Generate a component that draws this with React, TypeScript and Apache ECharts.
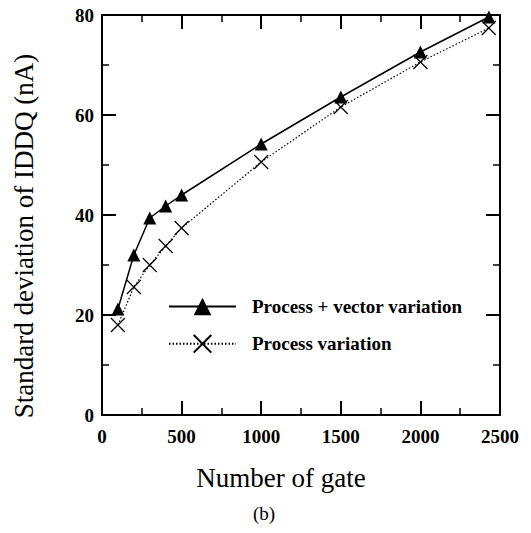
import React, { useEffect, useRef } from "react";
import * as echarts from "echarts";

const gates = [100, 200, 300, 400, 500, 1000, 1500, 2000, 2430];
const processVector = [21.2, 32, 39.4, 41.8, 44, 54.2, 63.6, 72.6, 79.6];
const processOnly = [18, 25.6, 30, 33.8, 37.4, 50.6, 61.6, 70.6, 77.4];
const seriesNames = ["Process + vector variation", "Process variation"];
const xTicks = [0, 500, 1000, 1500, 2000, 2500];
const yTicks = [0, 20, 40, 60, 80];

const serif = "Times New Roman, Liberation Serif, serif";
const crossPath = "path://M0,0L10,10M10,0L0,10";

function axisParts() {
  return {
    axisLine: { show: true, onZero: false, lineStyle: { color: "#000", width: 2 } },
    axisTick: { show: true, inside: true, length: 14, lineStyle: { color: "#000", width: 2 } },
    minorTick: { show: true, splitNumber: 2, length: 7, lineStyle: { color: "#000", width: 1.5 } },
    splitLine: { show: false },
  };
}

export default function App() {
  const ref = useRef<HTMLDivElement>(null);
  useEffect(() => {
    if (!ref.current) return;
    const chart = echarts.init(ref.current, undefined, { renderer: "svg" });
    const xMin = xTicks[0], xMax = xTicks[xTicks.length - 1];
    const yMin = yTicks[0], yMax = yTicks[yTicks.length - 1];
    const labelStyle = { color: "#000", fontFamily: serif, fontWeight: "bold", fontSize: 19 };
    chart.setOption({
      animation: false,
      backgroundColor: "#fff",
      grid: { left: 102, top: 15, right: 31, bottom: 118 },
      legend: {
        orient: "vertical",
        left: 163,
        top: 292,
        itemWidth: 67,
        itemHeight: 22,
        itemGap: 18,
        data: seriesNames,
        textStyle: { fontFamily: serif, fontWeight: "bold", fontSize: 19, color: "#000", padding: [0, 0, 0, 11] },
      },
      xAxis: [
        {
          type: "value",
          min: xMin,
          max: xMax,
          interval: 500,
          ...axisParts(),
          axisLabel: { ...labelStyle, margin: 12, formatter: (v: number) => String(v) },
          name: "Number of gate",
          nameLocation: "middle",
          nameGap: 49,
          nameTextStyle: { color: "#000", fontFamily: serif, fontSize: 27, padding: [0, 40, 0, 0] },
        },
        {
          type: "value",
          position: "top",
          min: xMin,
          max: xMax,
          interval: 500,
          ...axisParts(),
          axisLabel: { show: false },
        },
      ],
      yAxis: [
        {
          type: "value",
          min: yMin,
          max: yMax,
          interval: 20,
          ...axisParts(),
          axisLabel: { ...labelStyle, margin: 8 },
          name: "Standard deviation of IDDQ (nA)",
          nameLocation: "middle",
          nameGap: 65,
          nameTextStyle: { color: "#000", fontFamily: serif, fontSize: 27, padding: [0, 42, 0, 0] },
        },
        {
          type: "value",
          position: "right",
          min: yMin,
          max: yMax,
          interval: 20,
          ...axisParts(),
          axisLabel: { show: false },
        },
      ],
      graphic: [
        {
          type: "text",
          left: 253,
          top: 504,
          style: { text: "(b)", fontFamily: serif, fontSize: 19, fill: "#000" },
        },
      ],
      series: [
        {
          name: seriesNames[0],
          type: "line",
          data: gates.map((g, i) => [g, processVector[i]]),
          symbol: "triangle",
          symbolSize: 13,
          color: "#000",
          lineStyle: { color: "#000", width: 1.5, type: "solid" },
          itemStyle: { color: "#000" },
        },
        {
          name: seriesNames[1],
          type: "line",
          data: gates.map((g, i) => [g, processOnly[i]]),
          symbol: crossPath,
          symbolSize: 14,
          color: "#000",
          lineStyle: { color: "#000", width: 1.2, type: [1.5, 2] },
          itemStyle: { color: "#000", borderColor: "#000", borderWidth: 1.2 },
        },
      ],
    });
    return () => chart.dispose();
  }, []);
  return <div ref={ref} style={{ width: 531, height: 533, margin: -8 }} />;
}
